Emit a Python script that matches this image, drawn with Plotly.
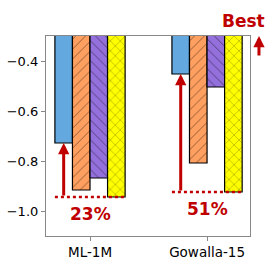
import plotly.graph_objects as go

categories = ["ML-1M", "Gowalla-15"]
series_names = ["Ours", "Base A", "Base B", "Base C"]
values_blue = [-0.728, -0.452]
values_orange = [-0.916, -0.808]
values_purple = [-0.868, -0.504]
values_yellow = [-0.944, -0.924]
improvement_labels = ["23%", "51%"]
y_ticks = [-0.4, -0.6, -0.8, -1.0]

RED = "#C00000"
colors = ["#63A9E0", "#FFA060", "#9370DB", "#FFFF00"]
patterns = ["", "/", "\\", "x"]
all_vals = [values_blue, values_orange, values_purple, values_yellow]

xidx = list(range(len(categories)))
fig = go.Figure()
for name, vals, col, pat in zip(series_names, all_vals, colors, patterns):
    fig.add_trace(go.Bar(
        x=xidx, y=vals, name=name,
        marker=dict(color=col, line=dict(color="black", width=1.2),
                    pattern=dict(shape=pat, fgcolor="black", bgcolor=col, size=7, solidity=0.12)),
    ))

bw = 0.15
for i in xidx:
    worst = min(v[i] for v in all_vals)
    ours = values_blue[i]
    xb = i - 1.5 * bw
    fig.add_shape(type="line", x0=i - 2 * bw, x1=i + 2 * bw, y0=worst, y1=worst,
                  xref="x", yref="y", line=dict(color=RED, width=2.5, dash="dot"))
    fig.add_annotation(x=xb, y=ours, ax=xb, ay=worst, xref="x", yref="y", axref="x", ayref="y",
                       showarrow=True, arrowhead=2, arrowsize=0.75, arrowwidth=3, arrowcolor=RED, text="")
    fig.add_annotation(x=i, y=worst, xref="x", yref="y", text="<b>%s</b>" % improvement_labels[i],
                       showarrow=False, yanchor="top", yshift=-5,
                       font=dict(color=RED, size=17, family="DejaVu Sans"))

fig.add_annotation(x=0.966, y=1.075, xref="paper", yref="paper", text="<b>Best</b>", showarrow=False,
                   xanchor="center", yanchor="middle",
                   font=dict(color=RED, size=17, family="DejaVu Sans"))
fig.add_annotation(x=1.044, y=1.0, ax=0, ay=21, xref="paper", yref="paper", axref="pixel", ayref="pixel",
                   showarrow=True, arrowhead=2, arrowsize=0.75, arrowwidth=3, arrowcolor=RED, text="")

fig.update_layout(
    width=278, height=261, barmode="group", bargap=0.4, bargroupgap=0,
    margin=dict(l=46, r=28, t=36, b=25, autoexpand=False),
    showlegend=False, plot_bgcolor="white", paper_bgcolor="white",
    font=dict(family="DejaVu Sans", size=13, color="black"),
)
fig.update_xaxes(range=[-0.376, 1.367], tickvals=xidx, ticktext=categories, showline=True, mirror=True,
                 linecolor="#888", linewidth=1.2, ticks="outside", ticklen=4, tickcolor="#888",
                 showgrid=False, zeroline=False, tickfont=dict(size=13.5), automargin=False)
fig.update_yaxes(range=[-1.1, -0.3], tickvals=y_ticks, ticktext=["\u22120.4", "\u22120.6", "\u22120.8", "\u22121.0"],
                 showline=True, mirror=True, linecolor="#888", linewidth=1.2, ticks="outside", ticklen=4,
                 tickcolor="#888", showgrid=False, zeroline=False, tickfont=dict(size=13), automargin=False)

fig.write_html("out.html", config={"displayModeBar": False},
               post_script="document.body.style.margin='0';document.body.style.overflow='hidden';")
